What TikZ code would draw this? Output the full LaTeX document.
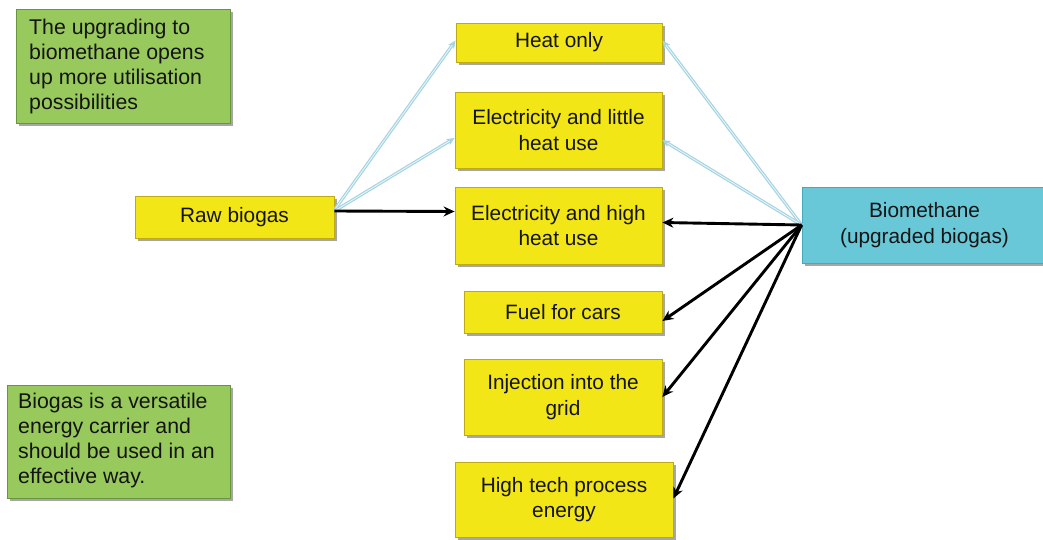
\documentclass[tikz,border=0pt]{standalone}
\usepackage{fontspec}
\setmainfont{Liberation Sans}
\usetikzlibrary{shadows,arrows.meta}
\definecolor{boxyellow}{RGB}{242,230,22}
\definecolor{yedge}{RGB}{190,170,20}
\definecolor{boxgreen}{RGB}{152,201,92}
\definecolor{gedge}{RGB}{105,150,60}
\definecolor{boxcyan}{RGB}{104,200,216}
\definecolor{cedge}{RGB}{70,170,190}
\definecolor{lblue}{RGB}{165,212,226}
\definecolor{txt}{RGB}{20,20,20}
\tikzset{
  base/.style={rectangle, inner sep=0pt, text=txt, align=center,
    font=\fontsize{20.8}{25.5}\selectfont,
    drop shadow={shadow xshift=3pt, shadow yshift=-3pt, fill=black, opacity=0.35}},
  ybox/.style={base, fill=boxyellow, draw=yedge, line width=0.8pt},
  gbox/.style={base, fill=boxgreen, draw=gedge, line width=0.8pt, align=left},
  cbox/.style={base, fill=boxcyan, draw=cedge, line width=0.8pt},
  notetext/.style={anchor=north west, inner sep=0pt, text=txt, align=left,
      font=\fontsize{21.3}{25}\selectfont},
  darr/.style={draw=black, line width=2.9pt, -{Stealth[length=11pt,width=10pt]}},
  larr/.style={draw=lblue, line width=1.2pt, double=white!80!lblue, double distance=0.8pt,
    -{Stealth[length=8pt,width=7pt]}}
}
\begin{document}
\begin{tikzpicture}[x=1pt,y=-1pt]
\useasboundingbox (0,0) rectangle (1043,540);
% green notes
\node[gbox, minimum width=214, minimum height=114] (note1) at (123,66) {};
\node[notetext] (note1t) at (29,19)
      {The upgrading to\\biomethane opens\\up more utilisation\\possibilities};
\node[gbox, minimum width=223, minimum height=113] (note2) at (118.5,441.5) {};
\node[notetext] (note2t) at (18,393)
      {Biogas is a versatile\\energy carrier and\\should be used in an\\effective way.};
% yellow boxes
\node[ybox, minimum width=199, minimum height=42] (raw) at (234.5,217) {Raw biogas};
\node[ybox, minimum width=206, minimum height=39] (heat) at (559,42.5) {Heat only};
\node[ybox, minimum width=207, minimum height=76] (elow) at (558.5,130) {Electricity and little\\heat use};
\node[ybox, minimum width=207, minimum height=77] (ehigh) at (558.5,225.5) {Electricity and high\\heat use};
\node[ybox, minimum width=198, minimum height=42] (fuel) at (563,312) {Fuel for cars};
\node[ybox, minimum width=198, minimum height=76] (inj) at (563,397) {Injection into the\\grid};
\node[ybox, minimum width=218, minimum height=75] (tech) at (564,499.5) {High tech process\\energy};
% cyan box
\node[cbox, minimum width=245, minimum height=76] (bio) at (924.5,225) {Biomethane\\(upgraded biogas)};
% connectors from raw biogas
\path[larr] ([yshift=7pt]raw.east) -- ([yshift=2pt]heat.west);
\path[larr] ([yshift=6pt]raw.east) -- ([yshift=-8pt]elow.west);
\path[darr] ([yshift=6pt]raw.east) -- ([yshift=14pt]ehigh.west);
% connectors from biomethane
\path[larr] (bio.west) -- ([yshift=2pt]heat.east);
\path[larr] (bio.west) -- ([yshift=-10pt]elow.east);
\path[darr] (bio.west) -- ([yshift=3pt]ehigh.east);
\path[darr] (bio.west) -- ([yshift=-9pt]fuel.east);
\path[darr] (bio.west) -- ([yshift=0pt]inj.east);
\path[darr] (bio.west) -- ([yshift=1pt]tech.east);
\end{tikzpicture}
\end{document}
